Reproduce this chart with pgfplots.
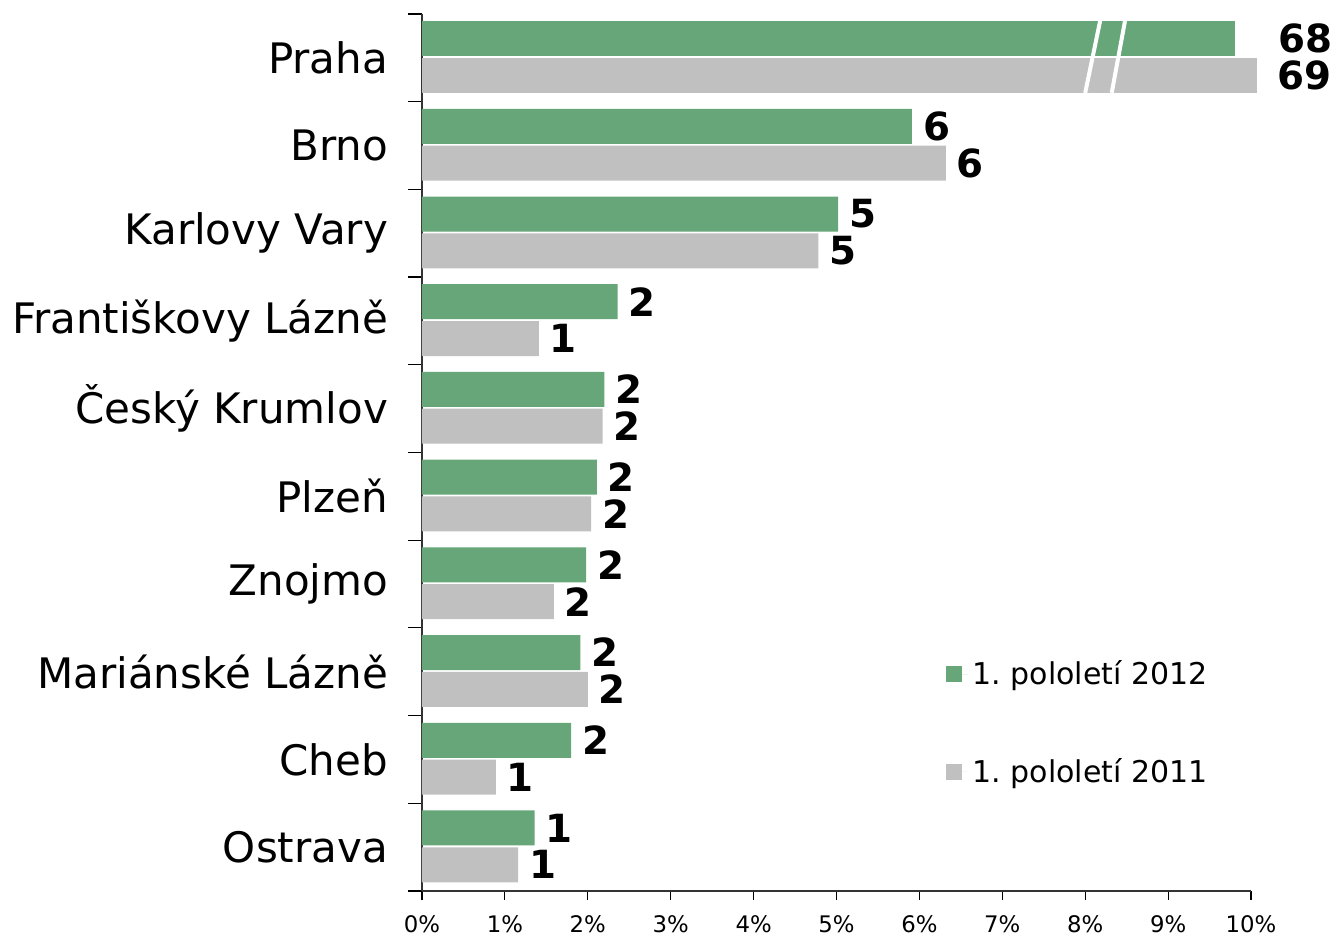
\documentclass[border=0pt]{standalone}
\usepackage{fontspec}
\setmainfont{DejaVu Sans}
\usepackage{pgfplots}
\pgfplotsset{compat=1.18}
\definecolor{green2012}{RGB}{102,166,120}
\definecolor{gray2011}{RGB}{192,192,192}
\frenchspacing

\begin{document}
\begin{tikzpicture}
\begin{axis}[
  scale only axis, width=414.5pt, height=438.5pt,
  xbar, bar width=17.5pt,
  xmin=0, xmax=10, ymin=-0.5, ymax=9.5,
  axis x line*=bottom, axis y line*=left,
  axis line style={-, black!80, line width=0.9pt},
  clip=false,
  xtick={0,...,10},
  xticklabel={\pgfmathprintnumber{\tick}\%},
  /pgf/number format/assume math mode=true,
  xticklabel style={font=\fontsize{11.4}{13}\selectfont, yshift=-4.5pt},
  ytick={0,...,9},
  yticklabels={Ostrava, Cheb, Mariánské Lázně, Znojmo, Plzeň, Český Krumlov,
    Františkovy Lázně, Karlovy Vary, Brno, Praha},
  yticklabel style={font=\fontsize{21}{24}\selectfont, inner sep=0pt, xshift=-12.3pt},
  minor ytick={-0.5,0.5,...,9.5},
  tick align=outside,
  major tick length=4.5pt, minor tick length=7pt,
  major y tick style={draw=none},
  minor y tick style={black, line width=0.6pt},
  major x tick style={black, line width=0.6pt},
  nodes near coords,
  point meta=explicit symbolic,
  nodes near coords style={font=\bfseries\fontsize{19.4}{21}\selectfont, anchor=west, xshift=2pt},
  legend style={draw=none, fill=none, at={(0.624,0.272)}, anchor=north west,
    font=\fontsize{15}{17}\selectfont, row sep=31.2pt},
  legend cell align=left,
]
\addplot[fill=green2012, draw=none, bar shift=9.6pt,
  legend image code/.code={\fill[green2012] (0pt,-4pt) rectangle (8pt,4pt);
    \path (0pt,0pt) -- (11.5pt,0pt);}]
  coordinates {
  (5.91,8) [6]
  (5.02,7) [5]
  (2.36,6) [2]
  (2.20,5) [2]
  (2.11,4) [2]
  (1.98,3) [2]
  (1.91,2) [2]
  (1.80,1) [2]
  (1.36,0) [1]
};
\addlegendentry{1.\ pololetí 2012}
\addplot[fill=gray2011, draw=none, bar shift=-8.8pt,
  legend image code/.code={\fill[gray2011] (0pt,-4pt) rectangle (8pt,4pt);
    \path (0pt,0pt) -- (11.5pt,0pt);}]
  coordinates {
  (6.32,8) [6]
  (4.78,7) [5]
  (1.41,6) [1]
  (2.18,5) [2]
  (2.04,4) [2]
  (1.59,3) [2]
  (2.00,2) [2]
  (0.89,1) [1]
  (1.16,0) [1]
};
\addlegendentry{1.\ pololetí 2011}
% Praha, bars cut off
\addplot[forget plot, fill=green2012, draw=none, bar shift=9.6pt,
  nodes near coords style={xshift=16pt}]
  coordinates {(9.81,9) [68]};
\addplot[forget plot, fill=gray2011, draw=none, bar shift=-8.8pt,
  nodes near coords style={xshift=5pt}]
  coordinates {(10.07,9) [69]};
% break marks
\addplot[forget plot, sharp plot, white, line width=2pt, nodes near coords={}]
  coordinates {(8.18,9.42) (8.00,8.60)};
\addplot[forget plot, sharp plot, white, line width=2pt, nodes near coords={}]
  coordinates {(8.48,9.42) (8.32,8.60)};
\coordinate (bl) at (rel axis cs:0,0);
\coordinate (tr) at (rel axis cs:1,1);
\end{axis}
\pgfresetboundingbox
\path ([xshift=-211pt,yshift=-23.5pt]bl) rectangle ([xshift=41pt,yshift=7pt]tr);
\end{tikzpicture}
\end{document}
